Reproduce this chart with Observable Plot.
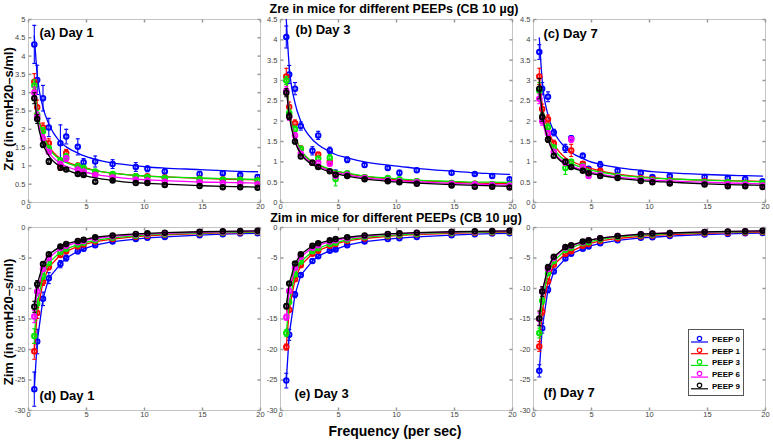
<!DOCTYPE html>
<html><head><meta charset="utf-8">
<script src="https://cdn.jsdelivr.net/npm/d3@7"></script>
<script src="https://cdn.jsdelivr.net/npm/@observablehq/plot@0.6"></script>
<style>
body{margin:0;background:#fff;}
#root{position:relative;width:773px;height:442px;overflow:hidden;font-family:"Liberation Sans",Arial,sans-serif;background:#fff;}
.panel{position:absolute;}
.lbl{position:absolute;font-weight:bold;white-space:nowrap;color:#000;transform:translate(-50%,-50%);line-height:0.7;}
.rot{transform:translate(-50%,-50%) rotate(-90deg);}
</style></head><body><div id="root"></div>
<script>
// ---------- data ----------
const freq = [0.5, 0.75, 1.25, 1.75, 2.75, 3.25, 4.25, 4.75, 5.75, 7.25, 9.25, 10.25, 11.75, 14.75, 16.75, 18.25, 19.75];
const series = ["PEEP 0", "PEEP 1", "PEEP 3", "PEEP 6", "PEEP 9"];
const colors = ["#0000ff", "#ff0000", "#00e600", "#ff00ff", "#000000"];
const xTicks = [0, 5, 10, 15, 20];
const zreTicksA = [0, 0.5, 1, 1.5, 2, 2.5, 3, 3.5, 4, 4.5, 5];
const zreTicksB = [0, 0.5, 1, 1.5, 2, 2.5, 3, 3.5, 4, 4.5];
const zimTicks = [-30, -25, -20, -15, -10, -5, 0];

// Zre, Day 1
const zreDay1 = [
  [4.32, 3.35, 2.85, 2.05, 1.62, 1.8, 1.52, 1.1, 1.12, 1.05, 0.97, 0.92, 0.85, 0.78, 0.8, 0.75, 0.7],
  [3.3, 2.6, 2.05, 1.62, 1.0, 1.35, 1.0, 0.92, 0.82, 0.75, 0.72, 0.72, 0.68, 0.65, 0.63, 0.62, 0.6],
  [3.2, 2.4, 1.95, 1.48, 1.15, 1.25, 1.0, 0.95, 0.85, 0.78, 0.72, 0.7, 0.67, 0.64, 0.62, 0.62, 0.6],
  [3.0, 2.35, 1.75, 1.38, 1.05, 1.2, 0.9, 0.85, 0.75, 0.68, 0.62, 0.6, 0.57, 0.55, 0.53, 0.52, 0.5],
  [2.85, 2.28, 1.58, 1.12, 0.95, 0.9, 0.78, 0.75, 0.57, 0.6, 0.53, 0.53, 0.48, 0.45, 0.42, 0.42, 0.4]
];
const zreDay1Err = [
  [0.52, 0.4, 0.35, 0.25, 0.5, 0.2, 0.22, 0.1, 0.15, 0.12, 0.12, 0.08, 0.07, 0.07, 0.07, 0.06, 0.06],
  [0.22, 0.2, 0.12, 0.12, 0.12, 0.1, 0.08, 0.06, 0.05, 0.05, 0.04, 0.04, 0.04, 0.04, 0.04, 0.03, 0.03],
  [0.15, 0.12, 0.1, 0.08, 0.07, 0.08, 0.06, 0.05, 0.05, 0.04, 0.04, 0.04, 0.03, 0.03, 0.03, 0.03, 0.03],
  [0.15, 0.12, 0.1, 0.07, 0.07, 0.08, 0.05, 0.05, 0.04, 0.04, 0.03, 0.03, 0.03, 0.03, 0.03, 0.03, 0.03],
  [0.15, 0.12, 0.08, 0.08, 0.06, 0.05, 0.04, 0.04, 0.04, 0.03, 0.03, 0.03, 0.03, 0.03, 0.03, 0.03, 0.03]
];
const zreDay1Fit = [
  [4.55, 3.5, 2.6, 2.15, 1.65, 1.52, 1.35, 1.28, 1.18, 1.08, 1.0, 0.97, 0.94, 0.9, 0.87, 0.85, 0.84],
  [3.3, 2.55, 1.9, 1.55, 1.2, 1.12, 1.0, 0.96, 0.88, 0.8, 0.74, 0.72, 0.7, 0.66, 0.64, 0.63, 0.62],
  [3.2, 2.5, 1.85, 1.5, 1.17, 1.09, 0.98, 0.94, 0.87, 0.8, 0.74, 0.72, 0.7, 0.67, 0.65, 0.64, 0.63],
  [3.0, 2.35, 1.7, 1.38, 1.07, 0.99, 0.88, 0.84, 0.77, 0.7, 0.64, 0.62, 0.6, 0.56, 0.55, 0.54, 0.53],
  [2.9, 2.25, 1.6, 1.28, 0.98, 0.9, 0.78, 0.74, 0.67, 0.6, 0.54, 0.52, 0.5, 0.46, 0.44, 0.43, 0.42]
];

// Zre, Day 3
const zreDay3 = [
  [4.07, 3.15, 2.8, 1.88, 1.27, 1.65, 1.28, 0.72, 1.05, 0.92, 0.85, 0.73, 0.79, 0.73, 0.7, 0.65, 0.57],
  [3.1, 2.35, 1.95, 1.32, 0.98, 1.18, 1.0, 0.7, 0.7, 0.62, 0.58, 0.55, 0.52, 0.48, 0.46, 0.45, 0.44],
  [3.0, 2.2, 1.8, 1.32, 0.98, 1.08, 1.1, 0.58, 0.72, 0.62, 0.6, 0.57, 0.52, 0.48, 0.46, 0.45, 0.45],
  [2.75, 2.1, 1.65, 1.2, 0.98, 0.98, 0.95, 0.65, 0.68, 0.6, 0.55, 0.52, 0.5, 0.46, 0.45, 0.43, 0.42],
  [2.7, 2.12, 1.5, 1.13, 0.98, 0.87, 0.77, 0.68, 0.65, 0.57, 0.52, 0.5, 0.46, 0.42, 0.39, 0.39, 0.37]
];
const zreDay3Err = [
  [0.27, 0.22, 0.15, 0.1, 0.1, 0.1, 0.08, 0.08, 0.07, 0.05, 0.05, 0.06, 0.05, 0.04, 0.03, 0.04, 0.04],
  [0.2, 0.12, 0.08, 0.07, 0.05, 0.05, 0.05, 0.05, 0.04, 0.03, 0.03, 0.03, 0.03, 0.03, 0.03, 0.03, 0.03],
  [0.1, 0.1, 0.08, 0.06, 0.05, 0.05, 0.08, 0.17, 0.04, 0.03, 0.03, 0.03, 0.03, 0.03, 0.03, 0.03, 0.03],
  [0.1, 0.08, 0.07, 0.05, 0.04, 0.04, 0.05, 0.05, 0.03, 0.03, 0.03, 0.03, 0.03, 0.03, 0.03, 0.03, 0.03],
  [0.1, 0.08, 0.06, 0.05, 0.04, 0.04, 0.04, 0.04, 0.03, 0.03, 0.03, 0.03, 0.03, 0.03, 0.03, 0.03, 0.03]
];
const zreDay3Fit = [
  [4.5, 3.35, 2.45, 2.0, 1.55, 1.42, 1.25, 1.18, 1.1, 1.0, 0.92, 0.89, 0.84, 0.77, 0.73, 0.71, 0.69],
  [3.1, 2.35, 1.65, 1.3, 1.0, 0.92, 0.81, 0.77, 0.71, 0.64, 0.58, 0.56, 0.54, 0.5, 0.48, 0.47, 0.47],
  [3.0, 2.3, 1.63, 1.3, 1.0, 0.93, 0.82, 0.78, 0.72, 0.65, 0.6, 0.58, 0.55, 0.52, 0.5, 0.5, 0.49],
  [2.85, 2.2, 1.55, 1.24, 0.96, 0.89, 0.78, 0.74, 0.68, 0.61, 0.55, 0.53, 0.51, 0.47, 0.45, 0.44, 0.43],
  [2.8, 2.15, 1.5, 1.2, 0.93, 0.86, 0.75, 0.71, 0.65, 0.58, 0.52, 0.5, 0.48, 0.44, 0.42, 0.41, 0.4]
];

// Zre, Day 7
const zreDay7 = [
  [3.7, 2.8, 2.6, 1.72, 1.33, 1.58, 1.15, 0.83, 0.93, 0.78, 0.73, 0.63, 0.65, 0.63, 0.6, 0.58, 0.52],
  [3.1, 2.3, 2.05, 1.45, 1.0, 1.28, 0.95, 0.75, 0.78, 0.65, 0.6, 0.57, 0.55, 0.52, 0.5, 0.48, 0.47],
  [2.75, 2.1, 1.85, 1.35, 0.85, 1.0, 0.9, 0.72, 0.7, 0.65, 0.58, 0.55, 0.53, 0.5, 0.5, 0.48, 0.48],
  [2.55, 2.0, 1.7, 1.25, 0.98, 1.55, 0.88, 0.65, 0.68, 0.62, 0.55, 0.52, 0.5, 0.47, 0.45, 0.44, 0.42],
  [2.8, 2.1, 1.55, 1.15, 1.0, 0.87, 0.78, 0.72, 0.65, 0.6, 0.53, 0.5, 0.47, 0.44, 0.4, 0.4, 0.38]
];
const zreDay7Err = [
  [0.18, 0.15, 0.12, 0.08, 0.1, 0.06, 0.06, 0.05, 0.08, 0.05, 0.05, 0.04, 0.05, 0.04, 0.04, 0.05, 0.04],
  [0.2, 0.12, 0.1, 0.08, 0.06, 0.15, 0.05, 0.04, 0.05, 0.04, 0.03, 0.03, 0.03, 0.03, 0.03, 0.03, 0.03],
  [0.2, 0.1, 0.08, 0.06, 0.16, 0.06, 0.05, 0.04, 0.04, 0.03, 0.03, 0.03, 0.03, 0.03, 0.03, 0.03, 0.03],
  [0.12, 0.1, 0.07, 0.05, 0.05, 0.07, 0.04, 0.04, 0.04, 0.03, 0.03, 0.03, 0.03, 0.03, 0.03, 0.03, 0.03],
  [0.25, 0.1, 0.07, 0.05, 0.06, 0.04, 0.04, 0.04, 0.03, 0.03, 0.03, 0.03, 0.03, 0.03, 0.03, 0.03, 0.03]
];
const zreDay7Fit = [
  [4.05, 3.0, 2.15, 1.75, 1.35, 1.23, 1.08, 1.02, 0.94, 0.86, 0.79, 0.76, 0.73, 0.69, 0.67, 0.66, 0.65],
  [3.15, 2.4, 1.8, 1.45, 1.1, 1.02, 0.9, 0.85, 0.78, 0.7, 0.63, 0.61, 0.58, 0.55, 0.54, 0.53, 0.52],
  [2.85, 2.2, 1.65, 1.33, 1.03, 0.96, 0.85, 0.81, 0.75, 0.68, 0.62, 0.6, 0.58, 0.55, 0.53, 0.52, 0.51],
  [2.75, 2.1, 1.55, 1.25, 0.97, 0.9, 0.8, 0.76, 0.7, 0.63, 0.57, 0.55, 0.53, 0.5, 0.48, 0.47, 0.46],
  [2.9, 2.2, 1.55, 1.22, 0.94, 0.87, 0.77, 0.73, 0.67, 0.6, 0.54, 0.52, 0.5, 0.46, 0.44, 0.43, 0.42]
];

// Zim, Day 1
const zimDay1 = [
  [-26.5, -18.7, -11.7, -8.3, -6.0, -5.0, -3.9, -3.5, -2.9, -2.3, -1.9, -1.7, -1.55, -1.25, -1.1, -1.0, -0.95],
  [-20.3, -14.0, -8.9, -6.5, -4.5, -3.9, -3.1, -2.8, -2.3, -1.9, -1.5, -1.35, -1.2, -1.0, -0.88, -0.82, -0.75],
  [-17.8, -12.5, -8.0, -5.8, -4.0, -3.5, -2.8, -2.5, -2.1, -1.7, -1.35, -1.2, -1.1, -0.9, -0.8, -0.75, -0.7],
  [-14.6, -10.5, -6.8, -5.0, -3.4, -3.0, -2.4, -2.2, -1.8, -1.45, -1.15, -1.05, -0.95, -0.78, -0.7, -0.65, -0.6],
  [-13.0, -9.3, -6.0, -4.4, -3.1, -2.7, -2.2, -2.0, -1.6, -1.3, -1.05, -0.95, -0.85, -0.7, -0.62, -0.58, -0.55]
];
const zimDay1Err = [
  [2.8, 2.0, 1.1, 0.9, 0.6, 0.5, 0.4, 0.35, 0.3, 0.2, 0.2, 0.15, 0.15, 0.1, 0.1, 0.1, 0.1],
  [1.3, 0.9, 0.6, 0.4, 0.3, 0.25, 0.2, 0.2, 0.15, 0.12, 0.1, 0.1, 0.1, 0.08, 0.08, 0.08, 0.08],
  [1.2, 0.8, 0.5, 0.35, 0.25, 0.2, 0.18, 0.15, 0.12, 0.1, 0.08, 0.08, 0.08, 0.06, 0.06, 0.06, 0.06],
  [1.0, 0.7, 0.4, 0.3, 0.2, 0.18, 0.15, 0.12, 0.1, 0.08, 0.07, 0.06, 0.06, 0.05, 0.05, 0.05, 0.05],
  [0.9, 0.6, 0.35, 0.25, 0.18, 0.15, 0.12, 0.1, 0.08, 0.07, 0.06, 0.05, 0.05, 0.05, 0.05, 0.05, 0.05]
];

// Zim, Day 3
const zimDay3 = [
  [-25.1, -17.6, -11.0, -7.8, -5.5, -4.7, -3.8, -3.6, -2.9, -2.3, -1.9, -1.75, -1.55, -1.25, -1.1, -1.0, -0.95],
  [-19.6, -13.5, -8.5, -6.2, -4.3, -3.8, -3.0, -2.7, -2.2, -1.8, -1.45, -1.3, -1.15, -0.95, -0.85, -0.8, -0.75],
  [-17.3, -12.2, -7.7, -5.6, -3.9, -3.4, -2.7, -2.5, -2.0, -1.6, -1.3, -1.2, -1.05, -0.85, -0.78, -0.72, -0.68],
  [-14.7, -10.4, -6.6, -4.8, -3.3, -2.9, -2.3, -2.1, -1.75, -1.4, -1.1, -1.0, -0.9, -0.75, -0.68, -0.63, -0.58],
  [-12.9, -9.2, -5.9, -4.4, -3.0, -2.6, -2.1, -1.9, -1.6, -1.3, -1.05, -0.95, -0.85, -0.7, -0.63, -0.58, -0.55]
];
const zimDay3Err = [
  [1.2, 0.9, 0.5, 0.4, 0.3, 0.25, 0.2, 0.2, 0.15, 0.12, 0.1, 0.1, 0.08, 0.07, 0.06, 0.06, 0.06],
  [0.5, 0.4, 0.25, 0.2, 0.15, 0.12, 0.1, 0.1, 0.08, 0.06, 0.05, 0.05, 0.05, 0.04, 0.04, 0.04, 0.04],
  [0.6, 0.4, 0.25, 0.2, 0.15, 0.12, 0.1, 0.1, 0.08, 0.06, 0.05, 0.05, 0.05, 0.04, 0.04, 0.04, 0.04],
  [0.5, 0.35, 0.2, 0.15, 0.12, 0.1, 0.08, 0.08, 0.06, 0.05, 0.05, 0.04, 0.04, 0.04, 0.04, 0.04, 0.04],
  [0.45, 0.3, 0.2, 0.15, 0.1, 0.1, 0.08, 0.07, 0.06, 0.05, 0.04, 0.04, 0.04, 0.04, 0.04, 0.04, 0.04]
];

// Zim, Day 7
const zimDay7 = [
  [-23.5, -16.5, -10.2, -7.2, -5.1, -4.3, -3.5, -3.1, -2.6, -2.1, -1.7, -1.6, -1.4, -1.15, -1.05, -0.95, -0.9],
  [-19.5, -13.8, -8.8, -6.1, -4.3, -3.9, -3.0, -2.7, -2.2, -1.8, -1.45, -1.3, -1.15, -0.95, -0.85, -0.8, -0.75],
  [-17.3, -12.0, -7.5, -5.5, -3.7, -3.3, -2.6, -2.4, -1.95, -1.55, -1.25, -1.15, -1.0, -0.82, -0.75, -0.7, -0.65],
  [-15.0, -10.5, -6.8, -5.0, -3.3, -3.0, -2.4, -2.1, -1.75, -1.4, -1.1, -1.0, -0.9, -0.75, -0.68, -0.63, -0.58],
  [-14.9, -10.5, -6.5, -4.8, -3.2, -2.9, -2.3, -2.1, -1.75, -1.4, -1.1, -1.0, -0.9, -0.72, -0.65, -0.6, -0.55]
];
const zimDay7Err = [
  [1.0, 0.8, 0.5, 0.35, 0.25, 0.2, 0.15, 0.15, 0.12, 0.1, 0.08, 0.08, 0.07, 0.06, 0.06, 0.05, 0.05],
  [0.8, 0.6, 0.4, 0.3, 0.25, 0.2, 0.15, 0.12, 0.1, 0.08, 0.06, 0.06, 0.05, 0.05, 0.04, 0.04, 0.04],
  [0.8, 0.6, 0.35, 0.25, 0.2, 0.15, 0.12, 0.1, 0.08, 0.06, 0.05, 0.05, 0.05, 0.04, 0.04, 0.04, 0.04],
  [1.0, 0.7, 0.4, 0.3, 0.2, 0.15, 0.12, 0.1, 0.08, 0.06, 0.05, 0.05, 0.05, 0.04, 0.04, 0.04, 0.04],
  [1.2, 0.8, 0.45, 0.3, 0.2, 0.15, 0.12, 0.1, 0.08, 0.06, 0.05, 0.05, 0.05, 0.04, 0.04, 0.04, 0.04]
];

// ---------- drawing ----------
const root = document.getElementById("root");
const FONT = '"Liberation Sans", Arial, sans-serif';

function lineSymbol(kind) {
  return {draw(ctx, size) {
    const l = Math.sqrt(size / Math.PI);
    if (kind === "h") { ctx.moveTo(-l, 0); ctx.lineTo(l, 0); }
    else if (kind === "up") { ctx.moveTo(0, 0); ctx.lineTo(0, -l); }
    else if (kind === "down") { ctx.moveTo(0, 0); ctx.lineTo(0, l); }
    else if (kind === "right") { ctx.moveTo(0, 0); ctx.lineTo(l, 0); }
    else if (kind === "left") { ctx.moveTo(0, 0); ctx.lineTo(-l, 0); }
  }};
}
const capSym = lineSymbol("h");

const ML = 28, MR = 6, MT = 8, MB = 14, FW = 232, FH = 183;

function panel({vals, errs, fits, frameLeft, frameTop, yDomain, yTicks, label, labelAnchor, dx, dy, connect}) {
  const marks = [
    Plot.frame({stroke: "#c4c4c4"}),
    Plot.axisX(xTicks, {label: null, tickSize: 0, tickPadding: 1, tickFormat: String, fill: "#444", fontSize: 7.5}),
    Plot.axisY(yTicks, {label: null, tickSize: 0, tickPadding: 3, tickFormat: String, fill: "#444", fontSize: 7.5}),
    Plot.dot(xTicks, {x: d => d, frameAnchor: "bottom", symbol: lineSymbol("up"), r: 3, stroke: "#999", fill: "none"}),
    Plot.dot(xTicks, {x: d => d, frameAnchor: "top", symbol: lineSymbol("down"), r: 3, stroke: "#999", fill: "none"}),
    Plot.dot(yTicks, {y: d => d, frameAnchor: "left", symbol: lineSymbol("right"), r: 3, stroke: "#999", fill: "none"}),
    Plot.dot(yTicks, {y: d => d, frameAnchor: "right", symbol: lineSymbol("left"), r: 3, stroke: "#999", fill: "none"})
  ];
  series.forEach((s, i) => {
    const rows = freq.map((f, j) => ({f, v: vals[i][j], lo: vals[i][j] - errs[i][j], hi: vals[i][j] + errs[i][j]}));
    const c = colors[i];
    if (fits) {
      const frows = freq.map((f, j) => ({f, v: fits[i][j]}));
      marks.push(Plot.line(frows, {x: "f", y: "v", stroke: c, strokeWidth: 1.3, curve: "monotone-x", clip: true}));
    }
    if (connect) {
      marks.push(Plot.line(rows, {x: "f", y: "v", stroke: c, strokeWidth: 1.3, clip: true}));
    }
    marks.push(Plot.ruleX(rows, {x: "f", y1: "lo", y2: "hi", stroke: c, strokeWidth: 1.1, clip: true}));
    marks.push(Plot.dot(rows, {x: "f", y: "lo", symbol: capSym, r: 2, stroke: c, strokeWidth: 1.1, fill: "none", clip: true}));
    marks.push(Plot.dot(rows, {x: "f", y: "hi", symbol: capSym, r: 2, stroke: c, strokeWidth: 1.1, fill: "none", clip: true}));
    marks.push(Plot.dot(rows, {x: "f", y: "v", r: 2.3, stroke: c, strokeWidth: 1.9, fill: "none", clip: true}));
  });
  marks.push(Plot.text([label], {text: d => d, frameAnchor: labelAnchor, dx, dy, textAnchor: "start", lineAnchor: "middle", fontSize: 13, fontWeight: "bold", fill: "#000"}));

  const svg = Plot.plot({
    width: ML + FW + MR, height: MT + FH + MB,
    marginLeft: ML, marginRight: MR, marginTop: MT, marginBottom: MB,
    x: {domain: [0, 20], label: null},
    y: {domain: yDomain, label: null},
    style: {background: "transparent", overflow: "visible", fontFamily: FONT, fontSize: "8px"},
    marks
  });
  const div = document.createElement("div");
  div.className = "panel";
  div.style.left = (frameLeft - ML) + "px";
  div.style.top = (frameTop - MT) + "px";
  div.appendChild(svg);
  root.appendChild(div);
}

panel({vals: zreDay1, errs: zreDay1Err, fits: zreDay1Fit, frameLeft: 28, frameTop: 19, yDomain: [0, 5], yTicks: zreTicksA, label: "(a) Day 1", labelAnchor: "top-left", dx: 11, dy: 13});
panel({vals: zreDay3, errs: zreDay3Err, fits: zreDay3Fit, frameLeft: 280, frameTop: 19, yDomain: [0, 4.5], yTicks: zreTicksB, label: "(b) Day 3", labelAnchor: "top-left", dx: 15, dy: 10});
panel({vals: zreDay7, errs: zreDay7Err, fits: zreDay7Fit, frameLeft: 533, frameTop: 19, yDomain: [0, 4.5], yTicks: zreTicksB, label: "(c) Day 7", labelAnchor: "top-left", dx: 10, dy: 14});
panel({vals: zimDay1, errs: zimDay1Err, fits: null, connect: true, frameLeft: 28, frameTop: 227, yDomain: [-30, 0], yTicks: zimTicks, label: "(d) Day 1", labelAnchor: "bottom-left", dx: 11, dy: -15});
panel({vals: zimDay3, errs: zimDay3Err, fits: null, connect: true, frameLeft: 280, frameTop: 227, yDomain: [-30, 0], yTicks: zimTicks, label: "(e) Day 3", labelAnchor: "bottom-left", dx: 14, dy: -17});
panel({vals: zimDay7, errs: zimDay7Err, fits: null, connect: true, frameLeft: 533, frameTop: 227, yDomain: [-30, 0], yTicks: zimTicks, label: "(f) Day 7", labelAnchor: "bottom-left", dx: 10, dy: -18});

// titles and axis labels
function label(text, x, y, size, rot) {
  const d = document.createElement("div");
  d.className = "lbl" + (rot ? " rot" : "");
  d.style.left = x + "px"; d.style.top = y + "px"; d.style.fontSize = size + "px";
  d.textContent = text;
  root.appendChild(d);
}
label("Zre in mice for different PEEPs (CB 10 µg)", 394, 8.5, 12.5);
label("Zim in mice for different PEEPs (CB 10 µg)", 396, 217.5, 12.5);
label("Frequency (per sec)", 395, 432, 14);
label("Zre (in cmH20–s/ml)", 9, 109, 13, true);
label("Zim (in cmH20–s/ml)", 9, 322, 13, true);

// legend
const leg = document.createElement("div");
leg.style.cssText = "position:absolute;left:688px;top:329px;width:56px;height:67px;border:1px solid #555;background:#fff;box-sizing:border-box;";
const ls = d3.select(leg).append("svg").attr("width", 56).attr("height", 67).style("display", "block");
series.forEach((s, i) => {
  const y = 9 + i * 11.7;
  const g = ls.append("g").attr("transform", `translate(0,${y})`);
  g.append("line").attr("x1", 2).attr("x2", 19).attr("y1", 3).attr("y2", 3).attr("stroke", colors[i]).attr("stroke-width", 1.2);
  g.append("circle").attr("cx", 10.5).attr("cy", -0.5).attr("r", 2.2).attr("fill", "none").attr("stroke", colors[i]).attr("stroke-width", 1.2);
  g.append("text").attr("x", 23).attr("y", 0).attr("dy", "0.35em").attr("font-family", FONT).attr("font-size", 8).attr("font-weight", "bold").text(s);
});
root.appendChild(leg);
</script></body></html>
